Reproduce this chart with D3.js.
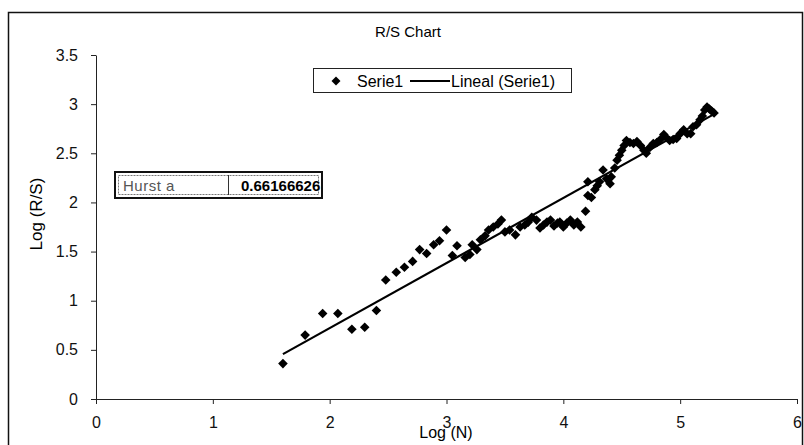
<!DOCTYPE html>
<html>
<head>
<meta charset="utf-8">
<script src="https://cdn.jsdelivr.net/npm/d3@7"></script>
<style>
  body { margin: 0; background: #fff; }
  svg { display: block; font-family: "Liberation Sans", Arial, sans-serif; }
</style>
</head>
<body>
<div id="chart"></div>
<script>
const width = 804, height = 445;

// values: log(N) and log(R/S)
const logN = [1.60, 1.79, 1.94, 2.07, 2.19, 2.30, 2.40, 2.48, 2.57, 2.64,
  2.71, 2.77, 2.83, 2.89, 2.94, 3.00, 3.05, 3.09, 3.16, 3.20,
  3.22, 3.26, 3.29, 3.33, 3.36, 3.40, 3.44, 3.47, 3.50, 3.54,
  3.59, 3.63, 3.67, 3.70, 3.73, 3.77, 3.80, 3.83, 3.86, 3.89,
  3.92, 3.95, 3.97, 4.00, 4.03, 4.06, 4.09, 4.12, 4.15, 4.19,
  4.21, 4.21, 4.24, 4.27, 4.29, 4.31, 4.34, 4.37, 4.40, 4.41,
  4.44, 4.46, 4.48, 4.50, 4.52, 4.54, 4.57, 4.60, 4.63, 4.66,
  4.69, 4.71, 4.74, 4.77, 4.80, 4.83, 4.86, 4.88, 4.91, 4.94,
  4.97, 5.00, 5.03, 5.06, 5.09, 5.11, 5.14, 5.17, 5.19, 5.21,
  5.23, 5.25, 5.27, 5.29];
const logRS = [0.36, 0.65, 0.87, 0.87, 0.71, 0.73, 0.90, 1.21, 1.29, 1.34,
  1.40, 1.52, 1.48, 1.57, 1.61, 1.72, 1.46, 1.56, 1.44, 1.47,
  1.57, 1.52, 1.62, 1.66, 1.72, 1.75, 1.78, 1.82, 1.70, 1.72,
  1.67, 1.75, 1.77, 1.80, 1.85, 1.82, 1.74, 1.77, 1.80, 1.82,
  1.76, 1.79, 1.80, 1.75, 1.79, 1.82, 1.77, 1.80, 1.75, 1.91,
  2.07, 2.21, 2.05, 2.13, 2.17, 2.21, 2.33, 2.24, 2.19, 2.26,
  2.35, 2.43, 2.48, 2.53, 2.58, 2.63, 2.61, 2.60, 2.62, 2.58,
  2.53, 2.50, 2.56, 2.60, 2.61, 2.64, 2.69, 2.66, 2.63, 2.64,
  2.65, 2.70, 2.74, 2.70, 2.70, 2.77, 2.79, 2.84, 2.88, 2.94,
  2.97, 2.95, 2.93, 2.91];

const xTicks = [0, 1, 2, 3, 4, 5, 6];
const yTicks = [0, 0.5, 1, 1.5, 2, 2.5, 3, 3.5];
const hurstLabel = "Hurst  a";
const hurstValue = "0.66166626";

const points = logN.map((n, i) => ({n: n, rs: logRS[i]}));

// trendline: slope is the Hurst exponent, line runs through the data's mean
const hurst = +hurstValue;
const mx = d3.mean(points, d => d.n), my = d3.mean(points, d => d.rs);
const trend = d3.extent(logN).map(v => ({n: v, rs: my + hurst * (v - mx)}));

const x = d3.scaleLinear().domain([0, 6]).range([96, 797]);
const y = d3.scaleLinear().domain([0, 3.5]).range([399, 55]);

const svg = d3.select("#chart").append("svg")
  .attr("width", width)
  .attr("height", height);

// outer chart frame
svg.append("rect")
  .attr("x", 8.5).attr("y", 12.5)
  .attr("width", 794).attr("height", 450)
  .attr("fill", "none").attr("stroke", "#111").attr("stroke-width", 1.5);

svg.append("text")
  .attr("x", 408).attr("y", 37)
  .attr("text-anchor", "middle")
  .style("font-size", "15px")
  .text("R/S Chart");

// axes
const gx = svg.append("g")
  .attr("transform", `translate(0,${y(0)})`)
  .call(d3.axisBottom(x).tickValues(xTicks).tickFormat(d => d).tickSize(5).tickSizeOuter(0).tickPadding(13));
const gy = svg.append("g")
  .attr("transform", `translate(${x(0)},0)`)
  .call(d3.axisLeft(y).tickValues(yTicks).tickFormat(d => d).tickSize(5).tickSizeOuter(0).tickPadding(13));
[gx, gy].forEach(g => {
  g.selectAll("text").style("font-size", "16px").attr("fill", "#111");
  g.selectAll("line, path").attr("stroke", "#222");
});

svg.append("text")
  .attr("x", 446).attr("y", 438)
  .attr("text-anchor", "middle")
  .style("font-size", "16px")
  .text("Log (N)");

svg.append("text")
  .attr("transform", "translate(42,214) rotate(-90)")
  .attr("text-anchor", "middle")
  .style("font-size", "17px")
  .text("Log (R/S)");

// points
svg.append("g")
  .selectAll("path")
  .data(points)
  .join("path")
  .attr("d", d3.symbol(d3.symbolSquare, 46))
  .attr("transform", d => `translate(${x(d.n)},${y(d.rs)}) rotate(45)`)
  .attr("fill", "#000");

// trendline
svg.append("path")
  .datum(trend)
  .attr("d", d3.line().x(d => x(d.n)).y(d => y(d.rs)))
  .attr("fill", "none")
  .attr("stroke", "#000")
  .attr("stroke-width", 2.2);

// legend
const lg = svg.append("g");
lg.append("rect")
  .attr("x", 313.5).attr("y", 68.5).attr("width", 258).attr("height", 24)
  .attr("fill", "#fff").attr("stroke", "#222");
lg.append("path")
  .attr("d", d3.symbol(d3.symbolSquare, 40))
  .attr("transform", "translate(336,81) rotate(45)");
lg.append("text").attr("x", 357).attr("y", 86.5).style("font-size", "16px").text("Serie1");
lg.append("line")
  .attr("x1", 410).attr("x2", 450).attr("y1", 81).attr("y2", 81)
  .attr("stroke", "#000").attr("stroke-width", 2);
lg.append("text").attr("x", 451).attr("y", 86.5).style("font-size", "16px").text("Lineal (Serie1)");

// Hurst box
const hb = svg.append("g");
hb.append("rect")
  .attr("x", 115).attr("y", 172).attr("width", 207).attr("height", 26)
  .attr("fill", "#fff").attr("stroke", "#111").attr("stroke-width", 2);
hb.append("rect")
  .attr("x", 118.5).attr("y", 175.5).attr("width", 200).attr("height", 19)
  .attr("fill", "none").attr("stroke", "#777").attr("stroke-dasharray", "2,1");
hb.append("line")
  .attr("x1", 228.5).attr("x2", 228.5).attr("y1", 175).attr("y2", 195)
  .attr("stroke", "#333");
hb.append("text").attr("x", 123).attr("y", 191).style("font-size", "15px")
  .attr("fill", "#555").style("letter-spacing", "0.5px").text(hurstLabel);
hb.append("text").attr("x", 241).attr("y", 191).style("font-size", "15px")
  .style("font-weight", "bold").text(hurstValue);
</script>
</body>
</html>
